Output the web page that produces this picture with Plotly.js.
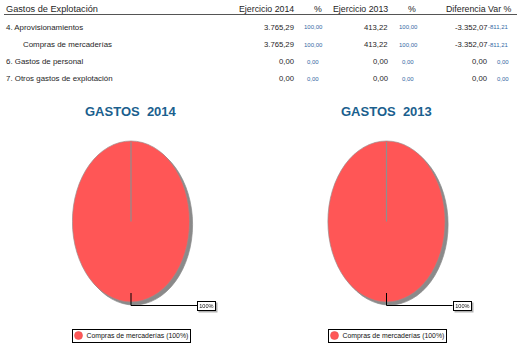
<!DOCTYPE html>
<html>
<head>
<meta charset="utf-8">
<script src="https://cdn.plot.ly/plotly-3.0.1.min.js"></script>
<style>
html,body{margin:0;padding:0;background:#fff;}
#chart{width:521px;height:353px;}
</style>
</head>
<body>
<div id="chart"></div>
<script>
// ---------- DATA ----------
var tableHeaders = ["Gastos de Explotación", "Ejercicio 2014", "%", "Ejercicio 2013", "%", "Diferencia Var %"];
var rowLabels = ["4. Aprovisionamientos", "Compras de mercaderías", "6. Gastos de personal", "7. Otros gastos de explotación"];
var rowIndent = [false, true, false, false];
var ej2014 = [3765.29, 3765.29, 0, 0];
var pct2014 = [100, 100, 0, 0];
var ej2013 = [413.22, 413.22, 0, 0];
var pct2013 = [100, 100, 0, 0];
var diffVals = [-3352.07, -3352.07, 0, 0];
var varPct = [-811.21, -811.21, 0, 0];

var pieLabels = ["Compras de mercaderías"];
var pie2014 = [3765.29];
var pie2013 = [413.22];
var pieTitles = ["GASTOS  2014", "GASTOS  2013"];

// ---------- HELPERS ----------
var W = 521, H = 353;
function px(x){ return x / W; }
function py(y){ return 1 - y / H; }
function fmt(v){
  var neg = v < 0; v = Math.abs(v);
  var s = v.toFixed(2).split('.');
  var ip = s[0].replace(/\B(?=(\d{3})+(?!\d))/g, '.');
  return (neg ? '-' : '') + ip + ',' + s[1];
}
var FONT = 'Liberation Sans, Arial, sans-serif';
var TXT = '#1e1e1e';
var BLUE = '#3468a4';
var RED = '#ff5757';
var TITLE = '#1b5f8e';

var ann = [];
var shapes = [];
function txt(x, y, t, anchor, size, color, bold){
  ann.push({xref:'paper', yref:'paper', x:px(x), y:py(y), text: bold ? '<b>'+t+'</b>' : t,
    showarrow:false, xanchor:anchor, yanchor:'middle',
    font:{family:FONT, size:size, color:color}});
}

// header
var hy = 8.5;
txt(4, hy, tableHeaders[0], 'left', 9.2, TXT);
txt(296, hy, tableHeaders[1], 'right', 8.8, TXT);
txt(318, hy, tableHeaders[2], 'center', 8.8, TXT);
txt(390, hy, tableHeaders[3], 'right', 8.8, TXT);
txt(411.5, hy, tableHeaders[4], 'center', 8.8, TXT);
txt(514, hy, tableHeaders[5], 'right', 8.8, TXT);
shapes.push({type:'line', xref:'paper', yref:'paper', x0:px(4), x1:px(517), y0:py(14.5), y1:py(14.5),
  line:{color:'#555', width:1}});

var rowY = [27, 44.5, 61.5, 78.5];
for (var i = 0; i < rowLabels.length; i++){
  var y = rowY[i];
  txt(rowIndent[i] ? 21 : 4, y, rowLabels[i], 'left', 7.9, TXT);
  txt(296, y, fmt(ej2014[i]), 'right', 7.7, TXT);
  txt(313, y + 0.5, fmt(pct2014[i]), 'center', 6.0, BLUE);
  txt(390, y, fmt(ej2013[i]), 'right', 7.7, TXT);
  txt(408, y + 0.5, fmt(pct2013[i]), 'center', 6.0, BLUE);
  txt(489, y, fmt(diffVals[i]), 'right', 7.7, TXT);
  txt(511, y + 0.5, fmt(varPct[i]), 'right', 6.0, BLUE);
}

// ---------- PIES ----------
var pieCx = [131, 386.5];
var legLeft = [72, 328];
var pieCy = 221.5;
var pieRy = 80.5;
var pieScale = 0.728;
var pieVals = [pie2014, pie2013];
var data = [];
for (var k = 0; k < 2; k++){
  var cx = pieCx[k];
  data.push({
    type:'pie', labels:pieLabels, values:pieVals[k], sort:false, direction:'clockwise', rotation:0,
    textinfo:'none', hoverinfo:'label+percent', showlegend:false,
    marker:{colors:[RED], line:{color:'#9a8a8a', width:0.8}},
    domain:{x:[px(cx - pieRy), px(cx + pieRy)], y:[py(pieCy + pieRy), py(pieCy - pieRy)]}
  });
  // title
  txt(cx, 111.5, pieTitles[k], 'center', 13, TITLE, true);
  // slice edge (12 o'clock)
  shapes.push({type:'line', xref:'paper', yref:'paper', x0:px(cx), x1:px(cx), y0:py(pieCy), y1:py(pieCy - pieRy + 1),
    line:{color:'#8f8f8f', width:1.2}});
  // leader line to label
  var total = pieVals[k].reduce(function(a,b){return a+b;}, 0);
  var pctTxt = Math.round(pieVals[k][0] / total * 100) + '%';
  var labLeft = cx + 66;
  var ly = pieCy + pieRy + 3.5;
  shapes.push({type:'path', xref:'paper', yref:'paper',
    path:'M'+px(cx)+','+py(pieCy + pieRy - 9)+' L'+px(cx)+','+py(ly)+' L'+px(labLeft)+','+py(ly),
    line:{color:'#000', width:1}});
  ann.push({xref:'paper', yref:'paper', x:px(labLeft), y:py(ly), text:pctTxt, showarrow:false,
    xanchor:'left', yanchor:'middle', font:{family:FONT, size:5.6, color:'#111'},
    bgcolor:'#fff', bordercolor:'#000', borderwidth:1, borderpad:1.2});
  // legend box
  var L = legLeft[k];
  ann.push({xref:'paper', yref:'paper', x:px(L), y:py(335.5),
    text:'      ' + pieLabels[0] + ' (' + pctTxt + ')',
    showarrow:false, xanchor:'left', yanchor:'middle', font:{family:FONT, size:6.9, color:'#111'},
    bgcolor:'rgba(0,0,0,0)', bordercolor:'#000', borderwidth:1, borderpad:2});
  shapes.push({type:'circle', xref:'paper', yref:'paper', x0:px(L + 2.5), x1:px(L + 10.5), y0:py(339.5), y1:py(331.5),
    fillcolor:RED, line:{color:'#e85050', width:0.6}});
}

var layout = {
  width:W, height:H, margin:{l:0, r:0, t:0, b:0},
  paper_bgcolor:'#fff', plot_bgcolor:'#fff',
  showlegend:false, annotations:ann, shapes:shapes,
  font:{family:FONT}
};

Plotly.newPlot('chart', data, layout, {displayModeBar:false, staticPlot:true}).then(function(gd){
  var svgNS = 'http://www.w3.org/2000/svg';
  var svg = gd.querySelector('.main-svg');
  var defs = svg.querySelector('defs') || svg.insertBefore(document.createElementNS(svgNS,'defs'), svg.firstChild);
  function mkFilter(id, d, col){
    var f = document.createElementNS(svgNS, 'filter');
    f.setAttribute('id', id);
    f.setAttribute('x', '-20%'); f.setAttribute('y', '-20%');
    f.setAttribute('width', '140%'); f.setAttribute('height', '140%');
    var s = document.createElementNS(svgNS, 'feDropShadow');
    s.setAttribute('dx', d); s.setAttribute('dy', d);
    s.setAttribute('stdDeviation', '0.4');
    s.setAttribute('flood-color', col); s.setAttribute('flood-opacity', '1');
    f.appendChild(s); defs.appendChild(f);
  }
  mkFilter('pieShadow', 3, '#8a8a8a');
  mkFilter('boxShadow', 1.5, '#b0b0b0');
  var traces = gd.querySelectorAll('.pielayer .trace');
  traces.forEach(function(t, idx){
    var cx = gd.calcdata[idx][0].cx;
    t.setAttribute('filter', 'url(#pieShadow)');
    t.querySelectorAll('g.slice').forEach(function(s){
      s.setAttribute('transform', 'translate(' + cx + ',0) scale(' + pieScale + ',1) translate(' + (-cx) + ',0)');
    });
  });
  gd.querySelectorAll('.annotation').forEach(function(a){
    var t = a.textContent;
    if (/^\d+%$/.test(t)) a.setAttribute('filter', 'url(#boxShadow)');
  });
});
</script>
</body>
</html>
